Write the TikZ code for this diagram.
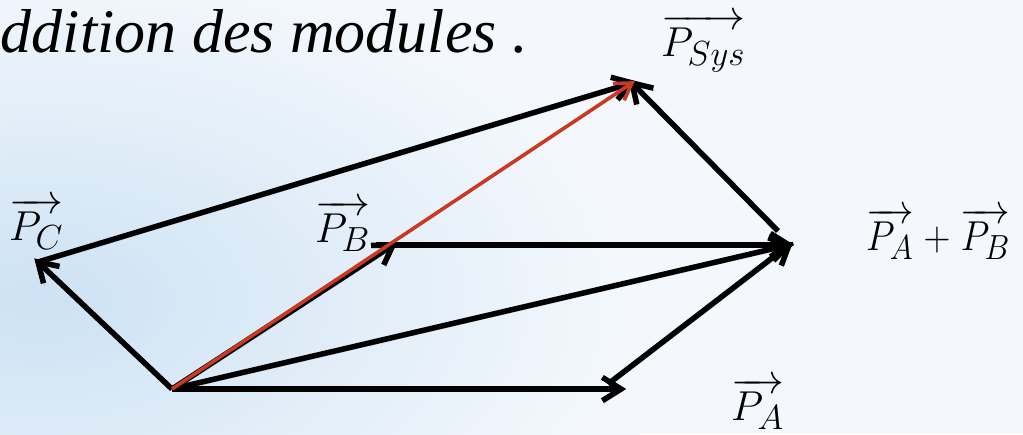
\documentclass[tikz,border=0pt]{standalone}
\usepackage{graphicx}
\usepackage{fontspec}
\setmainfont{Liberation Serif}
\usetikzlibrary{calc}
\definecolor{bgL}{RGB}{205,226,244}
\definecolor{bgBase}{RGB}{244,248,252}
\definecolor{vecred}{RGB}{200,58,36}
\newcommand{\biglbl}[1]{\scalebox{1.68}{\Huge$#1$}}
% vector: shaft plus open two-barb head
\newcommand{\vecar}[4]{% style, head length, start, tip
  \draw[#1] (#3) -- (#4);
  \draw[#1, line join=miter, line cap=butt] ($(#4)!#2!32:(#3)$) -- (#4) -- ($(#4)!#2!-32:(#3)$);}
\begin{document}
\begin{tikzpicture}[x=1pt,y=-1pt,
  shadowed/.style={preaction={draw=black, opacity=0.18, transform canvas={shift={(1.5pt,-2.5pt)}}}},
  vec/.style={shadowed, line width=5.5pt, black},
  res/.style={line width=3.6pt, vecred},
  lbl/.style={inner sep=0pt, anchor=base west},
  ttl/.style={inner sep=0pt, anchor=base east, font=\fontsize{62}{70}\selectfont\itshape}]
\useasboundingbox (0,0) rectangle (1023,434);
% background
\fill[bgBase] (0,0) rectangle (1023,434);
\shade[inner color=bgL, outer color=bgBase] (-560,-40) rectangle (640,640);
% points
\coordinate (O) at (172,389);
\coordinate (PC) at (38,262);
\coordinate (PB) at (393,245);
\coordinate (PBs) at (376,245);
\coordinate (PA) at (621,389);
\coordinate (PAs) at (608,384);
\coordinate (AB) at (789,245);
\coordinate (ABs) at (778,231);
\coordinate (PS) at (632,83);
% title
\node[ttl] (title) at (528,52) {ddition des modules .};
% vectors
\vecar{vec}{22pt}{O}{PC}
\vecar{vec}{22pt}{O}{PA}
\vecar{vec}{22pt}{O}{PB}
\vecar{vec}{22pt}{O}{AB}
\vecar{vec}{22pt}{PBs}{AB}
\vecar{vec}{22pt}{PAs}{AB}
\vecar{vec}{22pt}{PC}{PS}
\vecar{vec}{22pt}{ABs}{PS}
\vecar{res}{19pt}{O}{PS}
% labels
\node[lbl] (lsys) at (661,56) {\biglbl{\overrightarrow{P_{Sys}}}};
\node[lbl] (lc) at (9,240) {\biglbl{\overrightarrow{P_C}}};
\node[lbl] (lb) at (315,242) {\biglbl{\overrightarrow{P_B}}};
\node[lbl] (lab) at (866,250) {\scalebox{1.5}[1.68]{\Huge$\overrightarrow{P_A}\mskip1mu+\mskip1mu\overrightarrow{P_B}$}};
\node[lbl] (la) at (731,420) {\biglbl{\overrightarrow{P_A}}};
\end{tikzpicture}
\end{document}
